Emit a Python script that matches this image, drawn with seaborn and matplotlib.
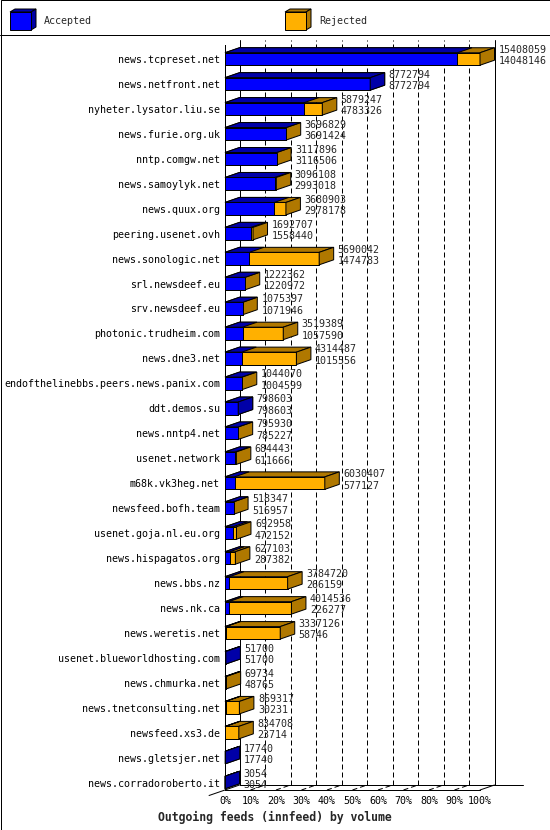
import matplotlib
matplotlib.use("Agg")
import matplotlib.pyplot as plt
from matplotlib.patches import Polygon, Rectangle
import seaborn as sns
import pandas as pd

hosts = [
    "news.tcpreset.net", "news.netfront.net", "nyheter.lysator.liu.se",
    "news.furie.org.uk", "nntp.comgw.net", "news.samoylyk.net", "news.quux.org",
    "peering.usenet.ovh", "news.sonologic.net", "srl.newsdeef.eu",
    "srv.newsdeef.eu", "photonic.trudheim.com", "news.dne3.net",
    "endofthelinebbs.peers.news.panix.com", "ddt.demos.su", "news.nntp4.net",
    "usenet.network", "m68k.vk3heg.net", "newsfeed.bofh.team",
    "usenet.goja.nl.eu.org", "news.hispagatos.org", "news.bbs.nz", "news.nk.ca",
    "news.weretis.net", "usenet.blueworldhosting.com", "news.chmurka.net",
    "news.tnetconsulting.net", "newsfeed.xs3.de", "news.gletsjer.net",
    "news.corradoroberto.it",
]
offered = [
    15408059, 8772794, 5879247, 3696829, 3117896, 3096108, 3680903, 1692707,
    5690042, 1222362, 1075397, 3519389, 4314487, 1044070, 798603, 795930,
    684443, 6030407, 518347, 692958, 627103, 3784720, 4014536, 3337126,
    51700, 69734, 869317, 834708, 17740, 3054,
]
accepted = [
    14048146, 8772794, 4783326, 3691424, 3116506, 2993018, 2978178, 1558440,
    1474783, 1220972, 1071946, 1057590, 1015556, 1004599, 798603, 785227,
    611666, 577127, 516957, 472152, 287382, 266159, 226277, 58746,
    51700, 48765, 30231, 23714, 17740, 3054,
]
series_names = ["Accepted", "Rejected"]
tick_values = list(range(0, 101, 10))
tick_labels = [f"{v}%" for v in tick_values]
title = "Outgoing feeds (innfeed) by volume"

BLUE, BLUE_D = "#0000ff", "#0000a8"
ORANGE, ORANGE_D = "#ffb000", "#b07800"
LW = 0.72

sns.set_style("white")
plt.rcParams["font.family"] = ["DejaVu Sans Mono"]
plt.rcParams["font.size"] = 7.2
plt.rcParams["axes.linewidth"] = LW
plt.rcParams["axes.edgecolor"] = "black"

vmax = max(offered)
df = pd.DataFrame({
    "host": hosts,
    "offered_pct": [v / vmax * 100 for v in offered],
    "accepted_pct": [v / vmax * 100 for v in accepted],
})

W, H = 550, 830
fig = plt.figure(figsize=(W / 100, H / 100), dpi=100)

# background / frame axes in pixel units
bg = fig.add_axes([0, 0, 1, 1], zorder=0)
bg.set_xlim(0, W)
bg.set_ylim(H, 0)
bg.axis("off")
bg.add_patch(Rectangle((0.5, 0.5), W - 1, H - 1, fill=False, ec="black", lw=LW))
bg.plot([0, W], [35, 35], color="black", lw=LW)


def legend_box(x, face, dark, label):
    fx0, fx1, fy0, fy1, ddx, ddy = x, x + 21, 12, 30, 5, 3
    bg.add_patch(Polygon([(fx0, fy0), (fx0 + ddx, fy0 - ddy), (fx1 + ddx, fy0 - ddy), (fx1, fy0)],
                         fc=dark, ec="black", lw=LW))
    bg.add_patch(Polygon([(fx1, fy0), (fx1 + ddx, fy0 - ddy), (fx1 + ddx, fy1 - ddy), (fx1, fy1)],
                         fc=dark, ec="black", lw=LW))
    bg.add_patch(Rectangle((fx0, fy0), 21, 18, fc=face, ec="black", lw=LW))
    bg.text(x + 34, 21, label, va="center", ha="left", fontsize=7.2)


legend_box(10, BLUE, BLUE_D, series_names[0])
legend_box(285, ORANGE, ORANGE_D, series_names[1])

# main plot axes: front plane
top_px, bot_px, left_px, right_px = 45, 790, 225, 480
ax = fig.add_axes([left_px / W, (H - bot_px) / H, (right_px - left_px) / W, (bot_px - top_px) / H],
                  zorder=1)
ax.set_facecolor("none")

sns.barplot(data=df, x="offered_pct", y="host", color=ORANGE, saturation=1, width=0.5,
            edgecolor="black", linewidth=LW, orient="h", ax=ax, zorder=2)
n_or = len(ax.patches)
sns.barplot(data=df, x="accepted_pct", y="host", color=BLUE, saturation=1, width=0.5,
            edgecolor="black", linewidth=LW, orient="h", ax=ax, zorder=2.2)
or_patches = ax.patches[:n_or]
bl_patches = ax.patches[n_or:]

Y0, Y1 = 29.3, -0.56
ax.set_xlim(0, 100)
ax.set_ylim(Y0, Y1)
ax.set_xlabel("")
ax.set_ylabel("")

px_x = (right_px - left_px) / 100.0
px_y = (bot_px - top_px) / (Y0 - Y1)
DX = 14.5 / px_x
DY = 5.0 / px_y


def faces(p, dark, z, side=True):
    x0, y0, w, h = p.get_x(), p.get_y(), p.get_width(), p.get_height()
    ax.add_patch(Polygon([(x0, y0), (x0 + DX, y0 - DY), (x0 + w + DX, y0 - DY), (x0 + w, y0)],
                         fc=dark, ec="black", lw=LW, zorder=z, clip_on=False))
    if side:
        ax.add_patch(Polygon([(x0 + w, y0), (x0 + w + DX, y0 - DY), (x0 + w + DX, y0 + h - DY),
                              (x0 + w, y0 + h)], fc=dark, ec="black", lw=LW, zorder=z, clip_on=False))


for i, (po, pb) in enumerate(zip(or_patches, bl_patches)):
    po.set_clip_on(False)
    pb.set_clip_on(False)
    faces(po, ORANGE_D, 2.1, side=True)
    faces(pb, BLUE_D, 2.3, side=(accepted[i] == offered[i]))
    c = po.get_y() + po.get_height() / 2
    xe = po.get_width() + DX + 4 / px_x
    ax.text(xe, c - 9 / px_y, f"{offered[i]}", ha="left", va="center", fontsize=7.2, zorder=5, clip_on=False)
    ax.text(xe, c + 2.5 / px_y, f"{accepted[i]}", ha="left", va="center", fontsize=7.2, zorder=5, clip_on=False)

# back plane & floor
yb = Y0 - DY
ytop_back = Y1 - DY
for v in tick_values:
    if v in (0, 100):
        ax.plot([v + DX, v + DX], [yb, ytop_back], color="black", lw=LW, zorder=1, clip_on=False)
    else:
        ax.plot([v + DX, v + DX], [yb, ytop_back], color="black", lw=LW, ls=(0, (5, 3)), zorder=1,
                clip_on=False)
        ax.plot([v, v + DX], [Y0, yb], color="black", lw=LW, ls=(0, (5, 3)), zorder=1, clip_on=False)
ax.plot([100, 100 + DX], [Y0, yb], color="black", lw=LW, zorder=1, clip_on=False)
ax.plot([DX, (523 - left_px) / px_x], [yb, yb], color="black", lw=LW, zorder=1, clip_on=False)
ax.plot([DX, -1.1 * DX], [yb, Y0 + 1.1 * DY], color="black", lw=LW, zorder=1, clip_on=False)

sns.despine(ax=ax, top=True, right=True)
ax.set_xticks(tick_values)
ax.set_xticklabels(tick_labels)
ax.tick_params(axis="x", length=3.6, width=LW, pad=1, labelsize=7.2, direction="out", colors="black")
ax.tick_params(axis="y", length=0, pad=3.6, labelsize=7.2, colors="black")

fig.text(0.5, 1 - 817 / H, title, ha="center", va="center", fontsize=8.3, fontweight="bold",
         family="DejaVu Sans Mono")

fig.savefig("out.png", dpi=100)
